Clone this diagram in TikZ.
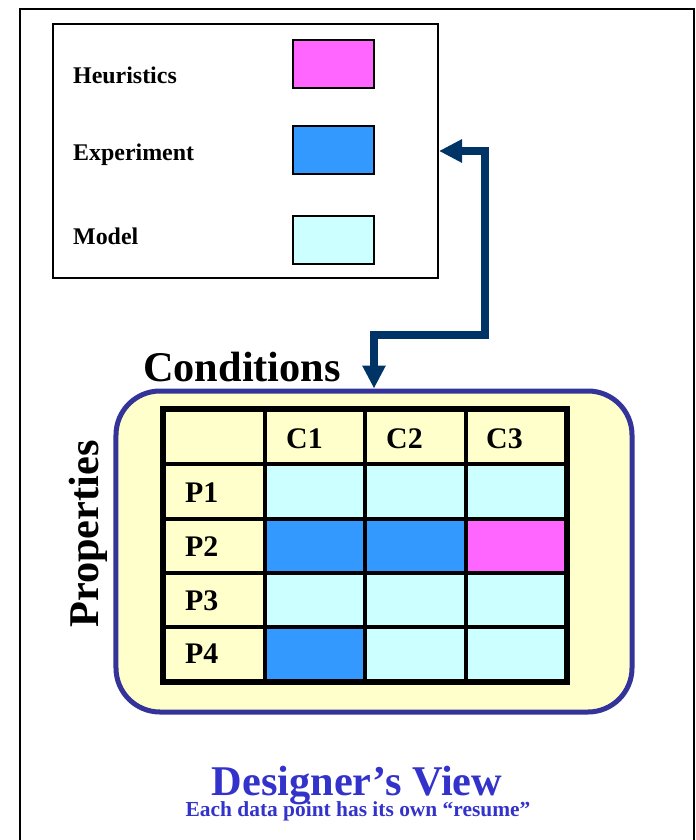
\documentclass[tikz,border=0pt]{standalone}
\usepackage{fontspec}
\setmainfont{Liberation Serif}
\usetikzlibrary{arrows.meta}
\definecolor{heurfill}{HTML}{FF66FF}
\definecolor{expfill}{HTML}{3399FF}
\definecolor{modelfill}{HTML}{CCFFFF}
\definecolor{paperfill}{HTML}{FFFFCC}
\definecolor{frameblue}{HTML}{333399}
\definecolor{arrownavy}{HTML}{003366}
\definecolor{titleblue}{HTML}{3333CC}
\tikzset{
	swatch/.style={draw=black, line width=2bp, minimum width=81bp, minimum height=48bp, inner sep=0pt},
	keylabel/.style={anchor=west, font=\fontsize{24}{24}\selectfont\bfseries, inner sep=0pt},
	celllabel/.style={anchor=base west, font=\fontsize{30}{30}\selectfont\bfseries, inner sep=0pt},
	biglabel/.style={anchor=base, font=\fontsize{42.5}{42.5}\selectfont\bfseries, inner sep=0pt},
	linkarrow/.style={draw=arrownavy, line width=8bp, {Triangle[length=23bp,width=22bp]}-{Triangle[length=23bp,width=22bp]}}
}
\begin{document}
\begin{tikzpicture}[x=1bp, y=-1bp]
	\useasboundingbox (0,0) rectangle (696,840);
	\fill[white] (0,0) rectangle (696,840);
	% outer frame, open at the bottom
	\draw[line width=2bp] (20,842) -- (20,9) -- (694,9) -- (694,842);
	% legend
	\node[draw=black, line width=2bp, minimum width=385bp, minimum height=254bp, inner sep=0pt] (legend) at (245.5,151) {};
	\node[swatch, fill=heurfill] (swHeur) at (333.5,64) {};
	\node[swatch, fill=expfill] (swExp) at (333.5,150) {};
	\node[swatch, fill=modelfill] (swModel) at (333.5,240) {};
	\node[keylabel] (kHeur) at (73,75) {Heuristics};
	\node[keylabel] (kExp) at (73,155) {Experiment};
	\node[keylabel] (kModel) at (73,236) {Model};
	% rounded frame round the table
	\node[draw=frameblue, fill=paperfill, line width=5bp, rounded corners=44bp,
		minimum width=516bp, minimum height=321bp, inner sep=0pt] (grid) at (374,551.5) {};
	% table cells: P1..P4 against C1..C3
	\fill[paperfill] (163,409) rectangle (567,464);
	\foreach \r/\ca/\cb/\cc [evaluate=\r as \ytop using 409+54.6*\r] in
		{1/modelfill/modelfill/modelfill, 2/expfill/expfill/heurfill,
		 3/modelfill/modelfill/modelfill, 4/expfill/modelfill/modelfill}{
		\fill[\ca] (265,\ytop) rectangle (365,\ytop+54.6);
		\fill[\cb] (365,\ytop) rectangle (466,\ytop+54.6);
		\fill[\cc] (466,\ytop) rectangle (567,\ytop+54.6);
	}
	\foreach \x in {265,365,466}
		\draw[line width=3.5bp] (\x,409) -- (\x,682);
	\foreach \y in {464,519,573,627}
		\draw[line width=3.5bp] (163,\y) -- (567,\y);
	\draw[line width=6bp] (163,409) rectangle (567,682);
	\node[celllabel] (c1) at (286,448) {C1};
	\node[celllabel] (c2) at (386,448) {C2};
	\node[celllabel] (c3) at (486,448) {C3};
	\node[celllabel] (p1) at (185,502) {P1};
	\node[celllabel] (p2) at (185,556) {P2};
	\node[celllabel] (p3) at (185,610) {P3};
	\node[celllabel] (p4) at (185,663) {P4};
	% axis titles
	\node[biglabel, anchor=base west] (cond) at (143,381) {Conditions};
	\node[biglabel, rotate=90] (prop) at (98,534) {Properties};
	% link between legend and table
	\draw[linkarrow] (legend.east) -- (485,151) -- (485,335) -- (374,335) -- (grid.north);
	% caption
	\node[biglabel, text=titleblue] (title) at (357,795) {Designer’s View};
	\node[anchor=base, font=\fontsize{21.5}{21.5}\selectfont\bfseries, text=titleblue, inner sep=0pt] (subtitle) at (358,816) {Each data point has its own “resume”};
\end{tikzpicture}
\end{document}
